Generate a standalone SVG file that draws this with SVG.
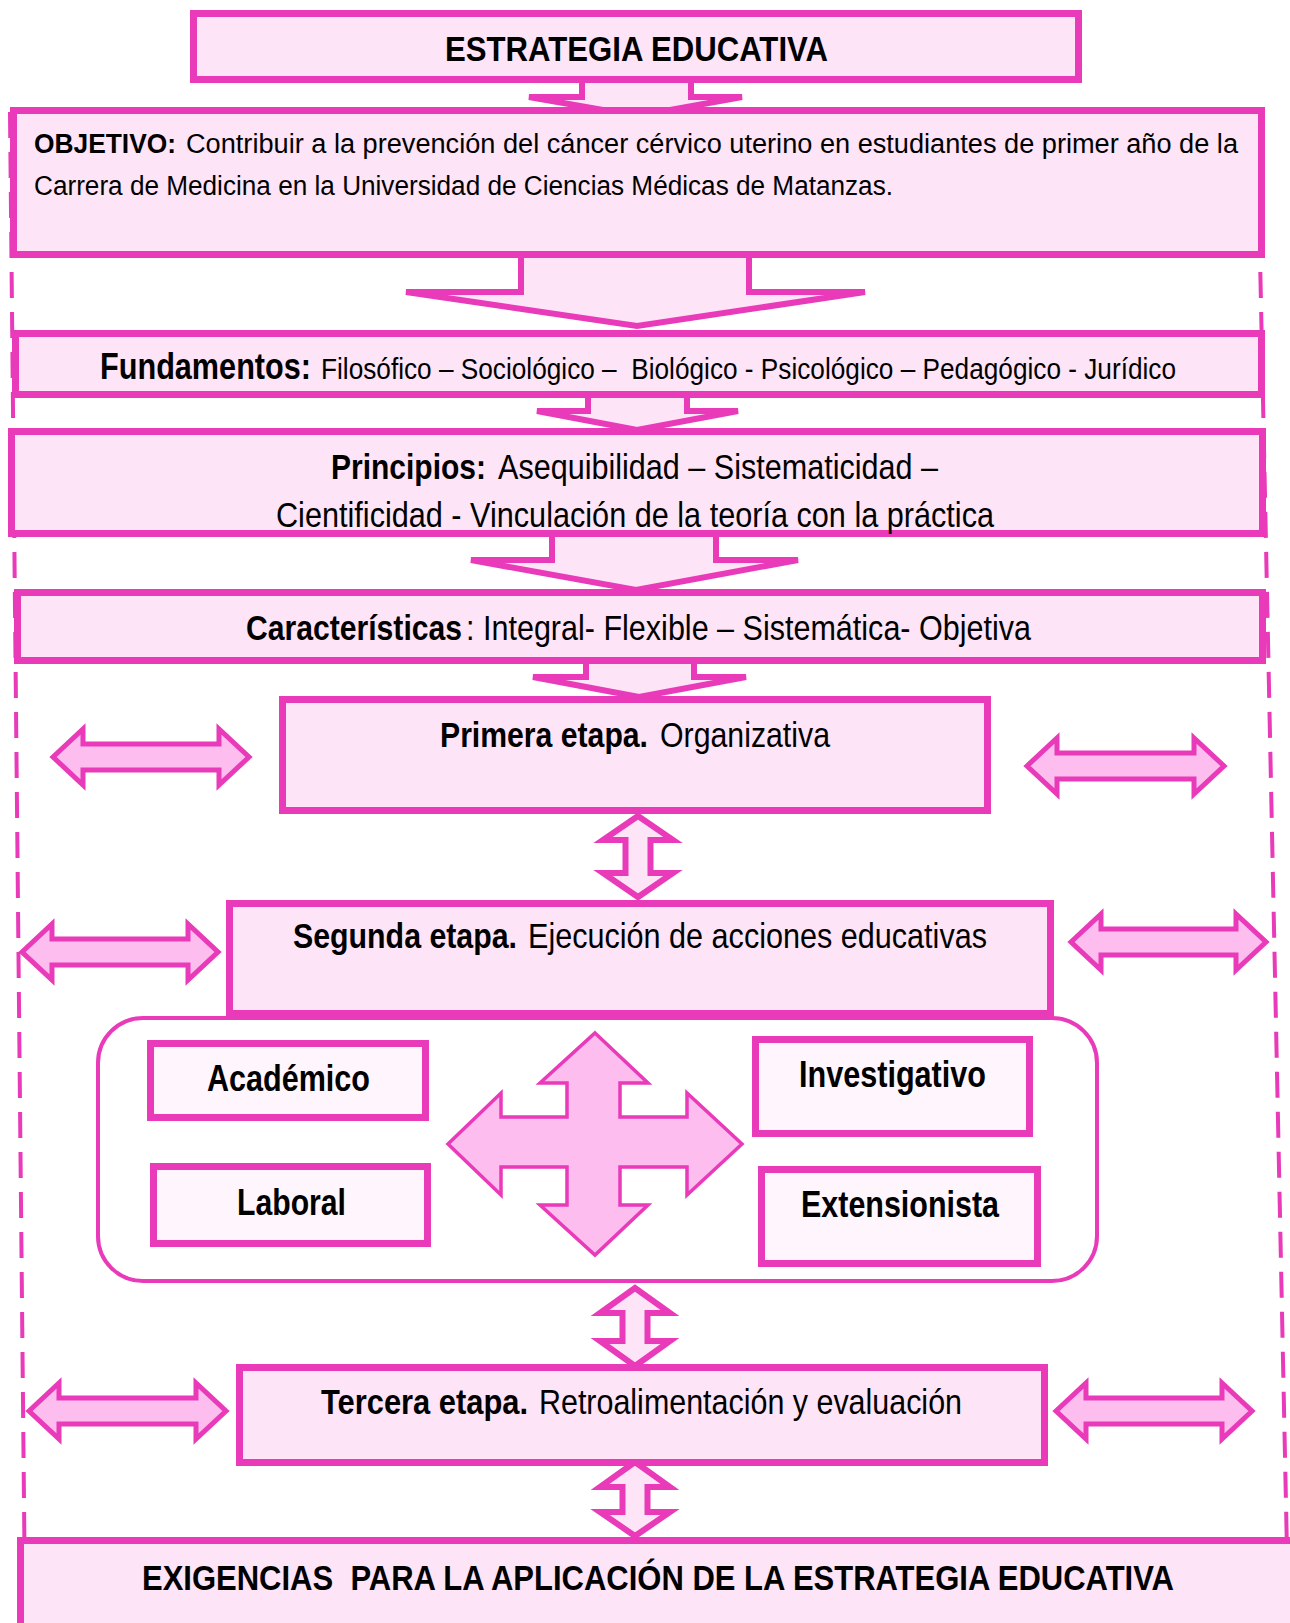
<svg xmlns="http://www.w3.org/2000/svg" width="1290" height="1623" viewBox="0 0 1290 1623">
<style>
.box{fill:#fde4f7;stroke:#e83ab9;stroke-width:7}
.ibox{fill:#fff5fc;stroke:#e83ab9;stroke-width:7}
.cont{fill:#ffffff;stroke:#e83ab9;stroke-width:4}
.blk{fill:#fde4f7;stroke:#e83ab9;stroke-width:6;stroke-linejoin:miter}
.dbl{fill:#fdbdee;stroke:#e83ab9;stroke-width:5;stroke-linejoin:miter}
.vdbl{fill:#fde4f7;stroke:#e83ab9;stroke-width:6;stroke-linejoin:miter}
.cross{fill:#fdbdee;stroke:#e83ab9;stroke-width:3.5;stroke-linejoin:miter}
.dash{fill:none;stroke:#e83ab9;stroke-width:4;stroke-dasharray:26 14}
text{font-family:"Liberation Sans Narrow","Arial Narrow","Liberation Sans",Arial,sans-serif;fill:#000}
.b{font-weight:bold}
</style>
<rect width="1290" height="1623" fill="#ffffff"/>
<g id="guides">
<line class="dash" x1="10" y1="112" x2="25" y2="1600"/>
<line class="dash" x1="1257" y1="112" x2="1288" y2="1600"/>
</g>
<g id="connectors">
<polygon class="blk" points="582,78 582,97 529,97 637,116 742,97 691,97 691,78"/>
<polygon class="blk" points="521,250 521,292 406,292 637,326 865,292 749,292 749,250"/>
<polygon class="blk" points="588,390 588,411 537,411 637,430 738,411 687,411 687,390"/>
<polygon class="blk" points="552,530 552,560 471,560 636,590 798,560 716,560 716,530"/>
<polygon class="blk" points="586,658 586,677 533,677 639,697 746,677 694,677 694,658"/>
<path class="dbl" d="M53,757 L83,729 L83,744 L219,744 L219,729 L249,757 L219,785 L219,770 L83,770 L83,785 Z"/>
<path class="dbl" d="M1027,766 L1057,738 L1057,753 L1194,753 L1194,738 L1224,766 L1194,794 L1194,779 L1057,779 L1057,794 Z"/>
<path class="dbl" d="M22,952 L52,924 L52,939 L188,939 L188,924 L218,952 L188,980 L188,965 L52,965 L52,980 Z"/>
<path class="dbl" d="M1071,942 L1101,914 L1101,929 L1236,929 L1236,914 L1266,942 L1236,970 L1236,955 L1101,955 L1101,970 Z"/>
<path class="dbl" d="M29,1411 L59,1383 L59,1398 L196,1398 L196,1383 L226,1411 L196,1439 L196,1424 L59,1424 L59,1439 Z"/>
<path class="dbl" d="M1056,1411 L1086,1383 L1086,1398 L1222,1398 L1222,1383 L1252,1411 L1222,1439 L1222,1424 L1086,1424 L1086,1439 Z"/>
<path class="vdbl" d="M638,816 L673,840 L650.5,840 L650.5,873 L673,873 L638,897 L603,873 L625.5,873 L625.5,840 L603,840 Z"/>
<path class="vdbl" d="M635,1288 L670,1313 L647.5,1313 L647.5,1341 L670,1341 L635,1366 L600,1341 L622.5,1341 L622.5,1313 L600,1313 Z"/>
<path class="vdbl" d="M635,1462 L670,1487 L647.5,1487 L647.5,1512 L670,1512 L635,1536 L600,1512 L622.5,1512 L622.5,1487 L600,1487 Z"/>
</g>
<g id="n-estrategia">
<rect class="box" x="193.5" y="13.5" width="885" height="66"/>
<text class="b" x="445" y="61" font-size="35" textLength="383" lengthAdjust="spacingAndGlyphs">ESTRATEGIA EDUCATIVA</text>
</g>
<g id="n-objetivo">
<rect class="box" x="13.5" y="110.5" width="1248" height="144"/>
<text class="b" x="34" y="153" font-size="27" textLength="142" lengthAdjust="spacingAndGlyphs">OBJETIVO:</text>
<text x="186" y="153" font-size="27" textLength="1052" lengthAdjust="spacingAndGlyphs">Contribuir a la prevención del cáncer cérvico uterino en estudiantes de primer año de la</text>
<text x="34" y="195" font-size="27" textLength="859" lengthAdjust="spacingAndGlyphs">Carrera de Medicina en la Universidad de Ciencias Médicas de Matanzas.</text>
</g>
<g id="n-fundamentos">
<rect class="box" x="15.5" y="333.5" width="1246" height="61"/>
<text class="b" x="100" y="379" font-size="36" textLength="211" lengthAdjust="spacingAndGlyphs">Fundamentos:</text>
<text x="321" y="379" font-size="30" textLength="855" lengthAdjust="spacingAndGlyphs" xml:space="preserve">Filosófico – Sociológico –  Biológico - Psicológico – Pedagógico - Jurídico</text>
</g>
<g id="n-principios">
<rect class="box" x="11.5" y="431.5" width="1251" height="102"/>
<text class="b" x="331" y="479" font-size="35" textLength="155" lengthAdjust="spacingAndGlyphs">Principios:</text>
<text x="498" y="479" font-size="35" textLength="440" lengthAdjust="spacingAndGlyphs">Asequibilidad – Sistematicidad –</text>
<text x="276" y="527" font-size="35" textLength="718" lengthAdjust="spacingAndGlyphs">Cientificidad - Vinculación de la teoría con la práctica</text>
</g>
<g id="n-caracteristicas">
<rect class="box" x="17.5" y="592.5" width="1245" height="68"/>
<text class="b" x="246" y="640" font-size="35" textLength="216" lengthAdjust="spacingAndGlyphs">Características</text>
<text x="466" y="640" font-size="35" textLength="565" lengthAdjust="spacingAndGlyphs">: Integral- Flexible – Sistemática- Objetiva</text>
</g>
<g id="n-primera">
<rect class="box" x="282.5" y="699.5" width="705" height="111"/>
<text class="b" x="440" y="747" font-size="35" textLength="208" lengthAdjust="spacingAndGlyphs">Primera etapa.</text>
<text x="660" y="747" font-size="35" textLength="170" lengthAdjust="spacingAndGlyphs">Organizativa</text>
</g>
<g id="n-contenedor">
<rect class="cont" x="98" y="1018" width="999" height="263" rx="45" ry="45"/>
</g>
<g id="n-segunda">
<rect class="box" x="229.5" y="903.5" width="821" height="110"/>
<text class="b" x="293" y="948" font-size="35" textLength="224" lengthAdjust="spacingAndGlyphs">Segunda etapa.</text>
<text x="528" y="948" font-size="35" textLength="459" lengthAdjust="spacingAndGlyphs">Ejecución de acciones educativas</text>
</g>
<g id="n-cruz">
<polygon class="cross" points="595,1033 648,1083 620,1083 620,1117 687,1117 687,1093 742,1144 687,1195 687,1167 620,1167 620,1205 648,1205 595,1255 540,1205 567,1205 567,1167 501,1167 501,1195 448,1144 501,1093 501,1117 567,1117 567,1083 540,1083"/>
</g>
<g id="n-academico">
<rect class="ibox" x="150.5" y="1043.5" width="275" height="74"/>
<text class="b" x="207" y="1091" font-size="36" textLength="163" lengthAdjust="spacingAndGlyphs">Académico</text>
</g>
<g id="n-laboral">
<rect class="ibox" x="153.5" y="1166.5" width="274" height="77"/>
<text class="b" x="237" y="1215" font-size="36" textLength="109" lengthAdjust="spacingAndGlyphs">Laboral</text>
</g>
<g id="n-investigativo">
<rect class="ibox" x="755.5" y="1039.5" width="274" height="94"/>
<text class="b" x="799" y="1087" font-size="36" textLength="187" lengthAdjust="spacingAndGlyphs">Investigativo</text>
</g>
<g id="n-extensionista">
<rect class="ibox" x="761.5" y="1169.5" width="276" height="94"/>
<text class="b" x="801" y="1217" font-size="36" textLength="198" lengthAdjust="spacingAndGlyphs">Extensionista</text>
</g>
<g id="n-tercera">
<rect class="box" x="239.5" y="1367.5" width="805" height="95"/>
<text class="b" x="321" y="1414" font-size="35" textLength="207" lengthAdjust="spacingAndGlyphs">Tercera etapa.</text>
<text x="539" y="1414" font-size="35" textLength="423" lengthAdjust="spacingAndGlyphs">Retroalimentación y evaluación</text>
</g>
<g id="n-exigencias">
<rect class="box" x="20.5" y="1540.5" width="1290" height="90"/>
<text class="b" x="142" y="1590" font-size="35" textLength="1032" lengthAdjust="spacingAndGlyphs" xml:space="preserve">EXIGENCIAS  PARA LA APLICACIÓN DE LA ESTRATEGIA EDUCATIVA</text>
</g>
</svg>
